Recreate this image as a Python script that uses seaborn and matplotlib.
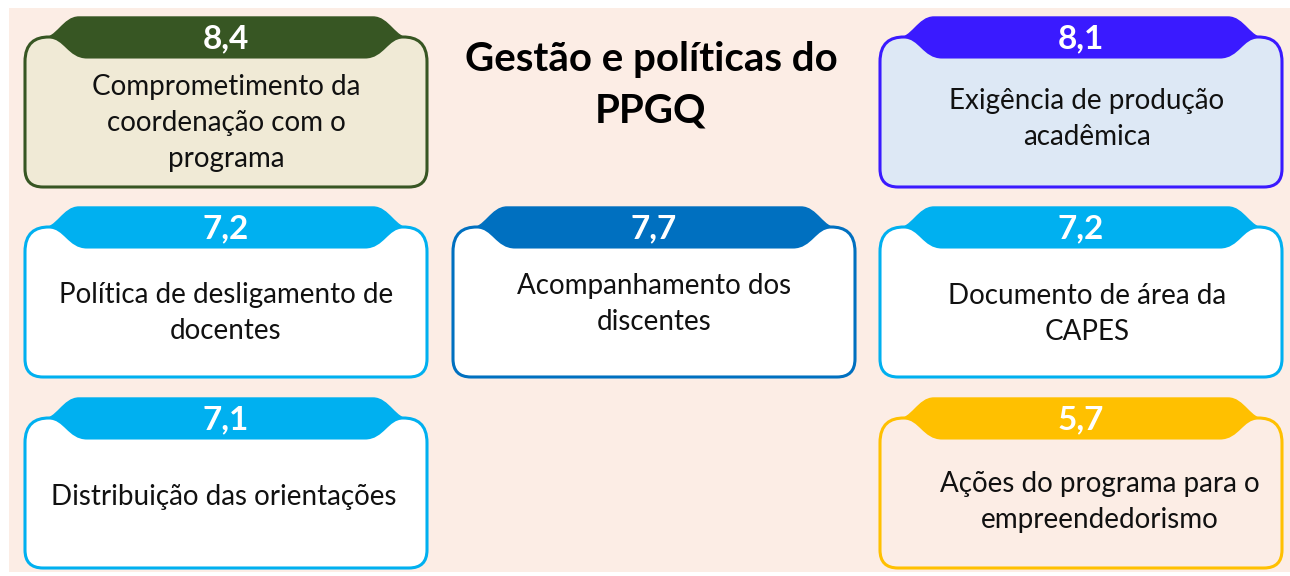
import matplotlib.pyplot as plt
import seaborn as sns
from matplotlib.path import Path
from matplotlib.patches import PathPatch, Rectangle

# ---------- Data ----------
title = "Gestão e políticas do\nPPGQ"
scores = [8.4, 8.1, 7.2, 7.7, 7.2, 7.1, 5.7]
labels = [
    "Comprometimento da\ncoordenação com o\nprograma",
    "Exigência de produção\nacadêmica",
    "Política de desligamento de\ndocentes",
    "Acompanhamento dos\ndiscentes",
    "Documento de área da\nCAPES",
    "Distribuição das orientações",
    "Ações do programa para o\nempreendedorismo",
]
edge_colors = ["#375623", "#3A1AFF", "#00B0F0", "#0070C0", "#00B0F0", "#00B0F0", "#FFC000"]
fill_colors = ["#F0EAD6", "#DDE8F5", "#FFFFFF", "#FFFFFF", "#FFFFFF", "#FFFFFF", "#FCEDE5"]

# grid layout (row, col) and small text tweaks
cells = [(0, 0), (0, 2), (1, 0), (1, 1), (1, 2), (2, 0), (2, 2)]
text_dx = [0, 6, 0, 0, 6, -2, 19]
text_dy = [106, 102, 106, 97, 107, 99, 104]

col_left = [25, 453, 880]
row_top = [17, 207, 398]
W, H = 402, 170
BG = "#FCEDE5"

sns.set_theme(style="white")
plt.rcParams['font.family'] = ['Lato', 'DejaVu Sans']


def body_path(L, T):
    v = [(0, 45),
         (0, 26), (10, 20), (24, 20),
         (40, 20), (44, 40), (62, 40),
         (W - 62, 40),
         (W - 44, 40), (W - 40, 20), (W - 24, 20),
         (W - 10, 20), (W, 26), (W, 45),
         (W, H - 18),
         (W, H), (W - 18, H),
         (18, H),
         (0, H), (0, H - 18),
         (0, 45)]
    c = [Path.MOVETO,
         Path.CURVE4, Path.CURVE4, Path.CURVE4,
         Path.CURVE4, Path.CURVE4, Path.CURVE4,
         Path.LINETO,
         Path.CURVE4, Path.CURVE4, Path.CURVE4,
         Path.CURVE4, Path.CURVE4, Path.CURVE4,
         Path.LINETO,
         Path.CURVE3, Path.CURVE3,
         Path.LINETO,
         Path.CURVE3, Path.CURVE3,
         Path.CLOSEPOLY]
    return Path([(L + x, T + y) for x, y in v], c)


def tab_path(L, T):
    v = [(16, 22),
         (32, 22), (38, 0), (54, 0),
         (W - 54, 0),
         (W - 38, 0), (W - 32, 22), (W - 16, 22),
         (W - 16, 45), (16, 45), (16, 22)]
    c = [Path.MOVETO,
         Path.CURVE4, Path.CURVE4, Path.CURVE4,
         Path.LINETO,
         Path.CURVE4, Path.CURVE4, Path.CURVE4,
         Path.LINETO, Path.LINETO, Path.CLOSEPOLY]
    return Path([(L + x, T + y) for x, y in v], c)


fig = plt.figure(figsize=(12.9, 5.76), dpi=100)
ax = fig.add_axes([0, 0, 1, 1])
ax.set_xlim(0, 1290)
ax.set_ylim(576, 0)
ax.axis('off')

ax.add_patch(Rectangle((9, 8), 1290, 564, facecolor=BG, edgecolor='none'))

for i, (r, c) in enumerate(cells):
    L, T = col_left[c], row_top[r]
    ax.add_patch(PathPatch(tab_path(L, T), facecolor=edge_colors[i], edgecolor=edge_colors[i], lw=1))
    ax.add_patch(PathPatch(body_path(L, T), facecolor=fill_colors[i], edgecolor=edge_colors[i], lw=2.2))
    ax.text(L + W / 2, T + 22, f"{scores[i]:.1f}".replace('.', ','), ha='center', va='center',
            fontsize=24, fontweight='bold', color='white')
    ax.text(L + W / 2 + text_dx[i], T + text_dy[i], labels[i], ha='center', va='center',
            fontsize=20, color='#111111', linespacing=1.48)

ax.text(651, 85, title, ha='center', va='center', fontsize=29, fontweight='bold',
        color='black', linespacing=1.5)

fig.savefig('out.png', dpi=100)
